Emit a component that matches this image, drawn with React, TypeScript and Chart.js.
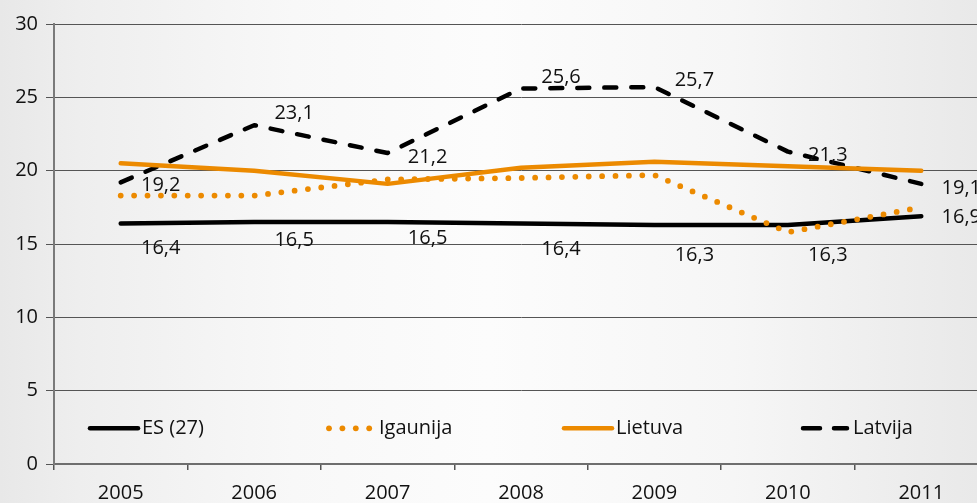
import React, { useEffect, useRef } from "react";
import { Chart, registerables } from "chart.js";

Chart.register(...registerables);

const years = ["2005", "2006", "2007", "2008", "2009", "2010", "2011"];
const esValues = [16.4, 16.5, 16.5, 16.4, 16.3, 16.3, 16.9];
const igaunijaValues = [18.3, 18.3, 19.4, 19.5, 19.7, 15.8, 17.5];
const lietuvaValues = [20.5, 20.0, 19.1, 20.2, 20.6, 20.3, 20.0];
const latvijaValues = [19.2, 23.1, 21.2, 25.6, 25.7, 21.3, 19.1];
const seriesNames = ["ES (27)", "Igaunija", "Lietuva", "Latvija"];

// label placement (layout only)
const labelDx = 40;
const esLabelDy = [25, 18, 16, 26, 30, 30, 1];
const latvijaLabelDy = [3, -12, 4, -11, -7, 3.5, 4];

const ORANGE = "#ec8a00";
const FONT = '"Open Sans", sans-serif';
const TEXT = "#111";

const fmt = (v: number) => v.toFixed(1).replace(".", ",");

const labelPlugin = {
  id: "valueLabels",
  afterDatasetsDraw(chart: any) {
    const ctx = chart.ctx;
    const x = chart.scales.x;
    const y = chart.scales.y;
    ctx.save();
    ctx.font = `20px ${FONT}`;
    ctx.fillStyle = TEXT;
    ctx.textAlign = "center";
    ctx.textBaseline = "middle";
    const draw = (vals: number[], dys: number[]) => {
      vals.forEach((v, i) => {
        ctx.fillText(fmt(v), x.getPixelForValue(i) + labelDx, y.getPixelForValue(v) + dys[i]);
      });
    };
    draw(esValues, esLabelDy);
    draw(latvijaValues, latvijaLabelDy);
    ctx.restore();
  },
};

const legendPlugin = {
  id: "insideLegend",
  afterDraw(chart: any) {
    const ctx = chart.ctx;
    const area = chart.chartArea;
    const ly = chart.scales.y.getPixelForValue(2.5) + 1;
    const spacing = 237;
    const sampleW = 48;
    ctx.save();
    ctx.font = `20px ${FONT}`;
    ctx.fillStyle = TEXT;
    ctx.textBaseline = "middle";
    ctx.textAlign = "left";
    seriesNames.forEach((name, i) => {
      const x0 = area.left + 36 + i * spacing;
      ctx.beginPath();
      ctx.lineCap = "round";
      if (i === 0) {
        ctx.strokeStyle = "#000";
        ctx.lineWidth = 4.5;
        ctx.setLineDash([]);
        ctx.moveTo(x0, ly);
        ctx.lineTo(x0 + sampleW, ly);
        ctx.stroke();
      } else if (i === 1) {
        ctx.fillStyle = ORANGE;
        for (let k = 0; k < 4; k++) {
          ctx.beginPath();
          ctx.arc(x0 + 2 + k * 13.4, ly, 2.9, 0, Math.PI * 2);
          ctx.fill();
        }
        ctx.fillStyle = TEXT;
      } else if (i === 2) {
        ctx.strokeStyle = ORANGE;
        ctx.lineWidth = 4.5;
        ctx.setLineDash([]);
        ctx.moveTo(x0, ly);
        ctx.lineTo(x0 + sampleW, ly);
        ctx.stroke();
      } else {
        ctx.strokeStyle = "#000";
        ctx.lineWidth = 4.5;
        ctx.setLineDash([]);
        ctx.moveTo(x0 + 2, ly);
        ctx.lineTo(x0 + 19, ly);
        ctx.moveTo(x0 + 33, ly);
        ctx.lineTo(x0 + 46, ly);
        ctx.stroke();
      }
      ctx.fillText(name, x0 + sampleW + 4, ly);
    });
    ctx.restore();
  },
};

export default function App() {
  const ref = useRef<HTMLCanvasElement | null>(null);
  useEffect(() => {
    if (!ref.current) return;
    const chart = new Chart(ref.current, {
      type: "line",
      data: {
        labels: years,
        datasets: [
          {
            label: seriesNames[1],
            data: igaunijaValues,
            borderColor: ORANGE,
            borderWidth: 5.8,
            borderDash: [0, 13.4],
            borderCapStyle: "round",
            borderJoinStyle: "round",
            pointRadius: 0,
            fill: false,
          },
          {
            label: seriesNames[2],
            data: lietuvaValues,
            borderColor: ORANGE,
            borderWidth: 4.5,
            borderCapStyle: "round",
            borderJoinStyle: "round",
            pointRadius: 0,
            fill: false,
          },
          {
            label: seriesNames[0],
            data: esValues,
            borderColor: "#000",
            borderWidth: 4.5,
            borderCapStyle: "round",
            borderJoinStyle: "round",
            pointRadius: 0,
            fill: false,
          },
          {
            label: seriesNames[3],
            data: latvijaValues,
            borderColor: "#000",
            borderWidth: 4.5,
            borderDash: [12, 15],
            borderCapStyle: "round",
            borderJoinStyle: "round",
            pointRadius: 0,
            fill: false,
          },
        ],
      },
      options: {
        responsive: false,
        animation: false,
        devicePixelRatio: 1,
        layout: { padding: { top: 24, right: 0, bottom: 0, left: 0 } },
        plugins: {
          legend: { display: false },
          tooltip: { enabled: false },
        },
        scales: {
          x: {
            offset: true,
            grid: {
              offset: true,
              drawOnChartArea: false,
              drawTicks: true,
              tickLength: 6,
              color: "#555",
              lineWidth: 1.5,
            },
            border: { display: true, color: "#6e6e6e", width: 2 },
            ticks: {
              color: TEXT,
              font: { family: FONT, size: 20 },
              padding: 11,
              maxRotation: 0,
            },
            afterFit: (s: any) => {
              s.height = 39;
            },
          },
          y: {
            min: 0,
            max: 30,
            ticks: {
              stepSize: 5,
              color: TEXT,
              font: { family: FONT, size: 20 },
              padding: 8,
            },
            grid: {
              color: "#555",
              lineWidth: 1,
              drawTicks: true,
              tickLength: 8,
            },
            border: { display: true, color: "#7a7a7a", width: 2 },
            afterFit: (s: any) => {
              s.width = 54;
            },
          },
        },
      },
      plugins: [labelPlugin, legendPlugin],
    });
    return () => chart.destroy();
  }, []);

  return (
    <div
      style={{
        position: "fixed",
        left: 0,
        top: 0,
        width: 977,
        height: 503,
        overflow: "hidden",
        background:
          "linear-gradient(to right, #e8e8e8 0%, #eeeeee 8%, #f8f8f8 30%, #fcfcfc 50%, #f6f6f6 75%, #e9e9e9 100%)",
      }}
    >
      <canvas ref={ref} width={988} height={503} style={{ display: "block", width: 988, height: 503 }} />
    </div>
  );
}
